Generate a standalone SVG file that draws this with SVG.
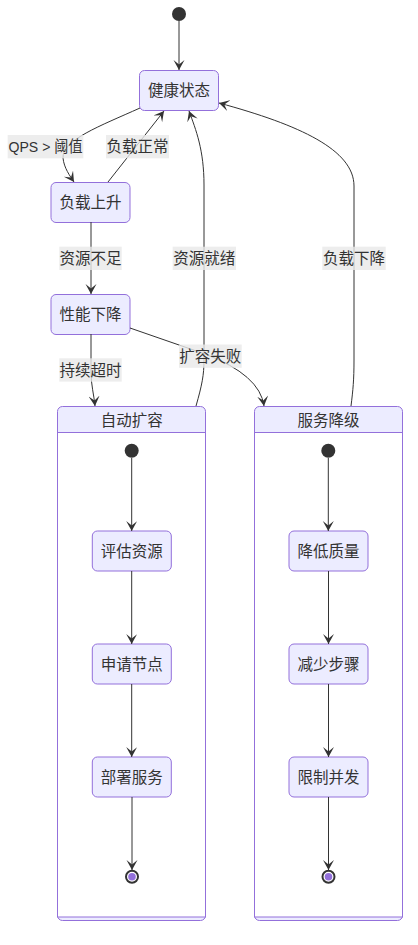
<svg xmlns="http://www.w3.org/2000/svg" width="418" height="945" viewBox="0 0 418 945">
<style>
text{font-family:"Liberation Sans","Noto Sans CJK SC",sans-serif;font-size:15.5px;fill:#333;text-anchor:middle;dominant-baseline:central}
.node rect{fill:#ECECFF;stroke:#9370DB;stroke-width:1}
.comp-outer{fill:#ECECFF;stroke:#9370DB;stroke-width:1}
.comp-inner{fill:#fff;stroke:#9370DB;stroke-width:1}
.start{fill:#333}
.end-o{fill:#fff;stroke:#333;stroke-width:2}
.end-i{fill:#9370DB}
.edge{fill:none;stroke:#333;stroke-width:1;marker-end:url(#arr)}
.lbl{fill:#e8e8e8;opacity:0.8}
</style>
<defs>
<marker id="arr" markerUnits="userSpaceOnUse" markerWidth="12" markerHeight="12" refX="10" refY="5.5" orient="auto">
<path d="M10,5.5 L0,11 L4.5,5.5 L0,0 Z" fill="#333"/>
</marker>
</defs>
<g id="start"><circle class="start" cx="179" cy="14" r="7"/></g>
<g id="AutoScale">
<rect class="comp-outer" x="57.5" y="406.5" width="148" height="514" rx="5"/>
<rect class="comp-inner" x="57.5" y="432.5" width="148" height="484.5"/>
<text x="131.7" y="420">自动扩容</text>
</g>
<g id="Degrade">
<rect class="comp-outer" x="254.5" y="406.5" width="148" height="514" rx="5"/>
<rect class="comp-inner" x="254.5" y="432.5" width="148" height="484.5"/>
<text x="328.5" y="420">服务降级</text>
</g>
<g id="healthy" class="node"><rect x="139.5" y="70.5" width="79" height="40" rx="5"/><text x="179" y="90.5">健康状态</text></g>
<g id="loadup" class="node"><rect x="51" y="182.5" width="79" height="40" rx="5"/><text x="90.5" y="202.5">负载上升</text></g>
<g id="perfdown" class="node"><rect x="51" y="294.5" width="79" height="40" rx="5"/><text x="90.5" y="314.5">性能下降</text></g>
<g id="as_start"><circle class="start" cx="131.7" cy="450.7" r="7"/></g>
<g id="eval" class="node"><rect x="92.3" y="531" width="79" height="40" rx="5"/><text x="131.8" y="551">评估资源</text></g>
<g id="apply" class="node"><rect x="92.3" y="644" width="79" height="40" rx="5"/><text x="131.8" y="664">申请节点</text></g>
<g id="deploy" class="node"><rect x="92.3" y="757" width="79" height="40" rx="5"/><text x="131.8" y="777">部署服务</text></g>
<g id="as_end"><circle class="end-o" cx="132" cy="876.7" r="6"/><circle class="end-i" cx="132" cy="876.7" r="3.8"/></g>
<g id="dg_start"><circle class="start" cx="328.3" cy="450.7" r="7"/></g>
<g id="quality" class="node"><rect x="289" y="531" width="79" height="40" rx="5"/><text x="328.5" y="551">降低质量</text></g>
<g id="steps" class="node"><rect x="289" y="644" width="79" height="40" rx="5"/><text x="328.5" y="664">减少步骤</text></g>
<g id="limit" class="node"><rect x="289" y="757" width="79" height="40" rx="5"/><text x="328.5" y="777">限制并发</text></g>
<g id="dg_end"><circle class="end-o" cx="328.5" cy="876.7" r="6"/><circle class="end-i" cx="328.5" cy="876.7" r="3.8"/></g>
<g id="connectors">
<path class="edge" d="M179,21 L179,70"/>
<path class="edge" d="M140,108 C100,126 62,140 63,158 C64,168 70,176 74,182"/>
<path class="edge" d="M108,182 L164,111"/>
<path class="edge" d="M91,222 L91,294"/>
<path class="edge" d="M91,334 L91,372 C91,385 94,395 95,406"/>
<path class="edge" d="M130,328 L205,354 Q260,375 264,406"/>
<path class="edge" d="M196,406 C202,385 204,375 204,360 L204,185 C204,150 196,130 189,111"/>
<path class="edge" d="M351,406 C353,390 354,380 354,360 L354,186 C354,150 300,125 219,103"/>
<path class="edge" d="M131.7,458 L131.7,531"/>
<path class="edge" d="M131.7,571 L131.7,644"/>
<path class="edge" d="M131.7,684 L131.7,757"/>
<path class="edge" d="M132,797 L132,870"/>
<path class="edge" d="M328.3,458 L328.3,531"/>
<path class="edge" d="M328.5,571 L328.5,644"/>
<path class="edge" d="M328.5,684 L328.5,757"/>
<path class="edge" d="M328.5,797 L328.5,870"/>
<g id="labels">
<rect class="lbl" x="7.7" y="135" width="75.6" height="23.3"/><text x="45.5" y="146.7" textLength="74" lengthAdjust="spacingAndGlyphs">QPS &gt; 阈值</text>
<rect class="lbl" x="106" y="135" width="63" height="23.3"/><text x="137.5" y="146.7">负载正常</text>
<rect class="lbl" x="59.3" y="246.7" width="62.4" height="23.3"/><text x="90.5" y="258.3">资源不足</text>
<rect class="lbl" x="172.7" y="246.7" width="63.3" height="23.3"/><text x="204.3" y="258.3">资源就绪</text>
<rect class="lbl" x="322.3" y="246.7" width="63.4" height="23.3"/><text x="354" y="258.3">负载下降</text>
<rect class="lbl" x="59.3" y="358.3" width="62.4" height="23.3"/><text x="90.5" y="370">持续超时</text>
<rect class="lbl" x="179" y="344.5" width="62.7" height="23.3"/><text x="210.3" y="356.2">扩容失败</text>
</g>
</g>
</svg>
